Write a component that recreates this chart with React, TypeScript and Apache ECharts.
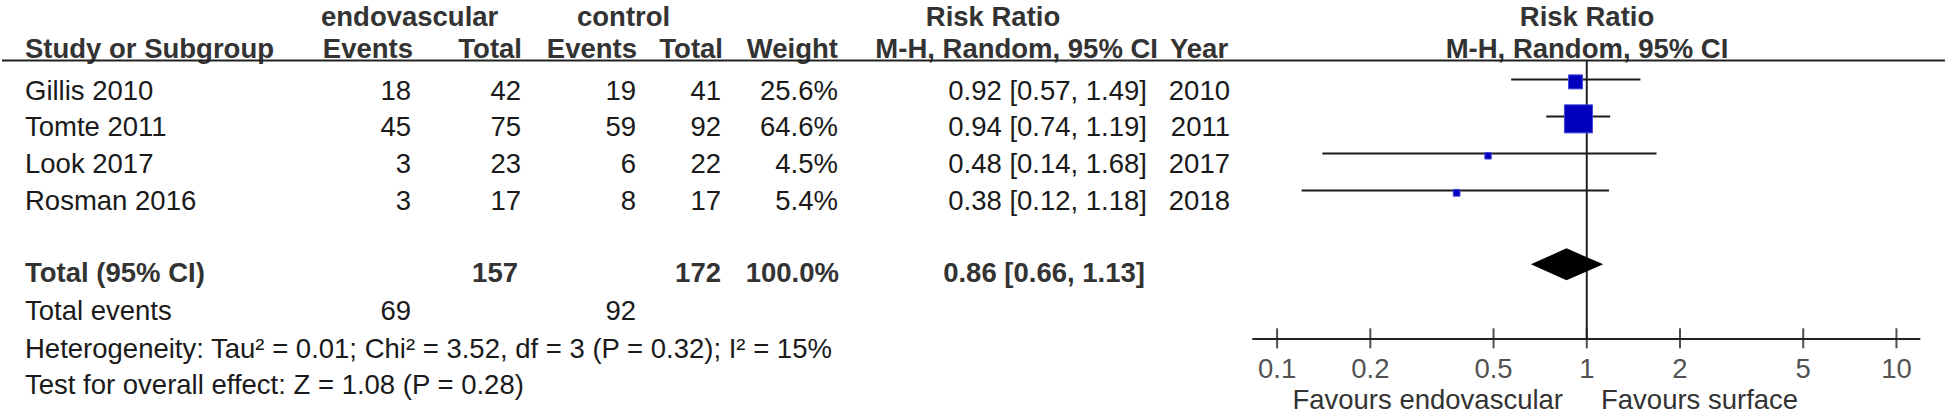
import React, { useEffect, useRef } from 'react';
import * as echarts from 'echarts';

// ---------- data ----------
const studies = ['Gillis 2010', 'Tomte 2011', 'Look 2017', 'Rosman 2016'];
const endoEvents = [18, 45, 3, 3];
const endoTotal = [42, 75, 23, 17];
const ctrlEvents = [19, 59, 6, 8];
const ctrlTotal = [41, 92, 22, 17];
const weights = [25.6, 64.6, 4.5, 5.4];
const riskRatio = [0.92, 0.94, 0.48, 0.38];
const ciLow = [0.57, 0.74, 0.14, 0.12];
const ciHigh = [1.49, 1.19, 1.68, 1.18];
const years = [2010, 2011, 2017, 2018];

const totalEndo = 157;
const totalCtrl = 172;
const totalWeight = 100.0;
const pooledRR = 0.86;
const pooledLow = 0.66;
const pooledHigh = 1.13;
const totalEventsEndo = 69;
const totalEventsCtrl = 92;
const heterogeneityText = 'Heterogeneity: Tau² = 0.01; Chi² = 3.52, df = 3 (P = 0.32); I² = 15%';
const overallText = 'Test for overall effect: Z = 1.08 (P = 0.28)';
const xTicks = [0.1, 0.2, 0.5, 1, 2, 5, 10];
const favoursLeft = 'Favours endovascular';
const favoursRight = 'Favours surface';

// ---------- layout ----------
const FONT = '"Liberation Sans", Arial, Helvetica, sans-serif';
const FS = 27.5;
const LH = 25;
const ROW0 = 90;
const ROWSTEP = 36.7;
const TOTAL_Y = 272;
const TEVENTS_Y = 310;
const HET_Y = 348;
const TEST_Y = 384.5;
const HEAD1_Y = 16;
const HEAD2_Y = 48;
const COL = {
  study: 25,
  endoEv: 411,
  endoTot: 521,
  ctrlEv: 636,
  ctrlTot: 721,
  weight: 838,
  rr: 1147,
  year: 1230,
};
const PLOT_CENTER = 1587;

function txt(text: string, x: number, y: number, align: string = 'left', bold = false, color?: string) {
  return {
    type: 'text',
    x,
    y,
    silent: true,
    style: {
      text,
      fontSize: FS,
      fontFamily: FONT,
      fontWeight: bold ? 'bold' : 'normal',
      lineHeight: LH,
      fill: color ?? (bold ? '#333333' : '#1a1a1a'),
      align,
      verticalAlign: 'middle',
      textAlign: align,
      textVerticalAlign: 'middle',
    },
  };
}

const f2 = (v: number) => v.toFixed(2);
const ciText = (r: number, lo: number, hi: number) => `${f2(r)} [${f2(lo)}, ${f2(hi)}]`;

function buildGraphics() {
  const g: any[] = [];
  // header row 1
  g.push(txt('endovascular', 321, HEAD1_Y, 'left', true));
  g.push(txt('control', 577, HEAD1_Y, 'left', true));
  g.push(txt('Risk Ratio', 993, HEAD1_Y, 'center', true));
  g.push(txt('Risk Ratio', PLOT_CENTER, HEAD1_Y, 'center', true));
  // header row 2
  g.push(txt('Study or Subgroup', COL.study, HEAD2_Y, 'left', true));
  g.push(txt('Events', COL.endoEv + 2, HEAD2_Y, 'right', true));
  g.push(txt('Total', COL.endoTot + 1, HEAD2_Y, 'right', true));
  g.push(txt('Events', COL.ctrlEv + 1, HEAD2_Y, 'right', true));
  g.push(txt('Total', COL.ctrlTot + 2, HEAD2_Y, 'right', true));
  g.push(txt('Weight', COL.weight, HEAD2_Y, 'right', true));
  g.push(txt('M-H, Random, 95% CI', 1158, HEAD2_Y, 'right', true));
  g.push(txt('Year', 1170, HEAD2_Y, 'left', true));
  g.push(txt('M-H, Random, 95% CI', PLOT_CENTER, HEAD2_Y, 'center', true));
  // rows
  studies.forEach((s, i) => {
    const y = ROW0 + i * ROWSTEP;
    g.push(txt(s, COL.study, y));
    g.push(txt(String(endoEvents[i]), COL.endoEv, y, 'right'));
    g.push(txt(String(endoTotal[i]), COL.endoTot, y, 'right'));
    g.push(txt(String(ctrlEvents[i]), COL.ctrlEv, y, 'right'));
    g.push(txt(String(ctrlTotal[i]), COL.ctrlTot, y, 'right'));
    g.push(txt(weights[i].toFixed(1) + '%', COL.weight, y, 'right'));
    g.push(txt(ciText(riskRatio[i], ciLow[i], ciHigh[i]), COL.rr, y, 'right'));
    g.push(txt(String(years[i]), COL.year, y, 'right'));
  });
  // totals
  g.push(txt('Total (95% CI)', COL.study, TOTAL_Y, 'left', true));
  g.push(txt(String(totalEndo), COL.endoTot - 3, TOTAL_Y, 'right', true));
  g.push(txt(String(totalCtrl), COL.ctrlTot, TOTAL_Y, 'right', true));
  g.push(txt(totalWeight.toFixed(1) + '%', COL.weight + 1, TOTAL_Y, 'right', true));
  g.push(txt(ciText(pooledRR, pooledLow, pooledHigh), COL.rr - 2, TOTAL_Y, 'right', true));
  g.push(txt('Total events', COL.study, TEVENTS_Y));
  g.push(txt(String(totalEventsEndo), COL.endoEv, TEVENTS_Y, 'right'));
  g.push(txt(String(totalEventsCtrl), COL.ctrlEv, TEVENTS_Y, 'right'));
  g.push(txt(heterogeneityText, COL.study, HET_Y));
  g.push(txt(overallText, COL.study, TEST_Y));
  // favours
  g.push(txt(favoursLeft, 1563, 399, 'right', false, '#333333'));
  g.push(txt(favoursRight, 1601, 399, 'left', false, '#333333'));
  // header rule
  g.push({
    type: 'line',
    silent: true,
    shape: { x1: 2, y1: 60.5, x2: 1945, y2: 60.5 },
    style: { stroke: '#222222', lineWidth: 2 },
  });
  return g;
}

const Y_MIN = -0.5;
const Y_MAX = 7;

function buildOption(): any {
  return {
    animation: false,
    backgroundColor: '#ffffff',
    textStyle: { fontFamily: FONT },
    grid: { left: 1253, right: 26.5, top: 61, bottom: 74.7 },
    xAxis: {
      type: 'log',
      logBase: 10,
      min: 0.0836,
      max: 11.87,
      axisLine: { show: true, onZero: false, lineStyle: { color: '#222222', width: 2 } },
      axisTick: { show: false },
      axisLabel: { show: false },
      splitLine: { show: false },
    },
    yAxis: {
      type: 'value',
      inverse: true,
      min: Y_MIN,
      max: Y_MAX,
      show: false,
    },
    series: [
      {
        name: 'no effect',
        type: 'line',
        data: [[1, Y_MIN], [1, Y_MAX]],
        symbol: 'none',
        silent: true,
        lineStyle: { color: '#222222', width: 2 },
        z: 1,
      },
      {
        name: 'studies',
        type: 'custom',
        clip: false,
        z: 2,
        data: studies.map((s, i) => [riskRatio[i], i, ciLow[i], ciHigh[i], weights[i]]),
        encode: { x: [0, 2, 3], y: 1 },
        renderItem: (params: any, api: any) => {
          const y = api.value(1);
          const lo = api.coord([api.value(2), y]);
          const hi = api.coord([api.value(3), y]);
          const c = api.coord([api.value(0), y]);
          const s = 4.8 + 0.36 * api.value(4);
          return {
            type: 'group',
            children: [
              {
                type: 'line',
                shape: { x1: lo[0], y1: lo[1], x2: hi[0], y2: hi[1] },
                style: { stroke: '#1a1a1a', lineWidth: 2 },
              },
              {
                type: 'rect',
                shape: { x: c[0] - s / 2, y: c[1] + 2.4 - s / 2, width: s, height: s },
                style: { fill: '#0000bd', stroke: '#4646dc', lineWidth: 1 },
              },
            ],
          };
        },
      },
      {
        name: 'pooled',
        type: 'custom',
        clip: false,
        z: 2,
        data: [[pooledRR, 5, pooledLow, pooledHigh]],
        encode: { x: [0, 2, 3], y: 1 },
        renderItem: (params: any, api: any) => {
          const y = api.value(1);
          const lo = api.coord([api.value(2), y]);
          const hi = api.coord([api.value(3), y]);
          const c = api.coord([api.value(0), y]);
          return {
            type: 'polygon',
            shape: { points: [lo, [c[0], c[1] - 16], hi, [c[0], c[1] + 16]] },
            style: { fill: '#000000' },
          };
        },
      },
      {
        name: 'ticks',
        type: 'scatter',
        clip: false,
        silent: true,
        z: 3,
        data: xTicks.map((v) => [v, Y_MAX]),
        symbol: 'rect',
        symbolSize: [2, 20],
        itemStyle: { color: '#222222' },
        label: {
          show: true,
          position: 'bottom',
          distance: 6,
          formatter: (p: any) => String(p.value[0]),
          fontSize: FS,
          fontFamily: FONT,
          color: '#222222',
        },
      },
    ],
    graphic: buildGraphics(),
  };
}

export default function App() {
  const ref = useRef<HTMLDivElement>(null);
  useEffect(() => {
    if (!ref.current) return;
    const chart = echarts.init(ref.current, null, { renderer: 'svg' });
    chart.setOption(buildOption());
    return () => chart.dispose();
  }, []);
  return (
    <div
      ref={ref}
      style={{ position: 'fixed', left: 0, top: 0, width: 1946, height: 413, background: '#ffffff' }}
    />
  );
}
